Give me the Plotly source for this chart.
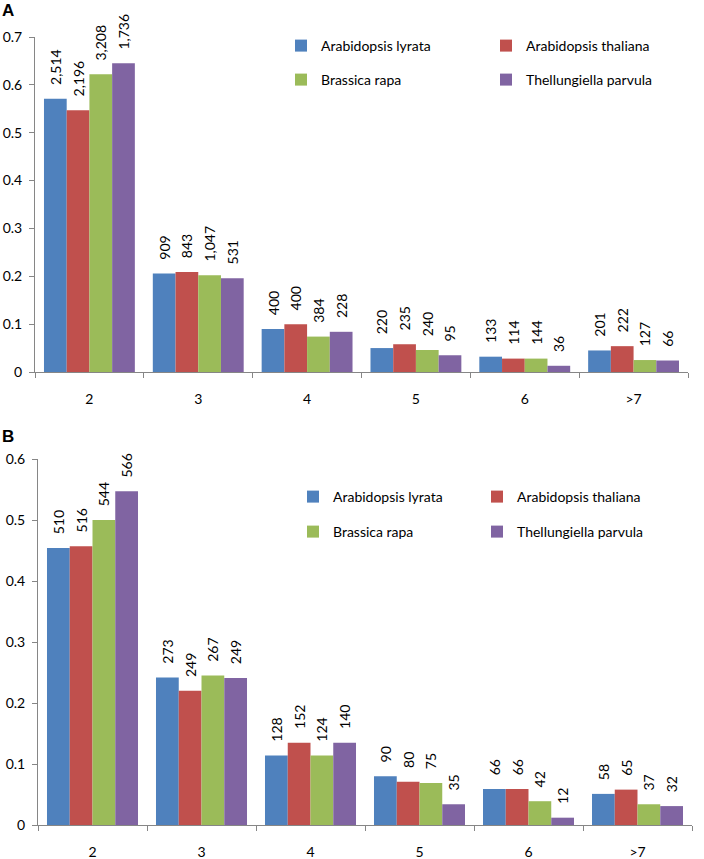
import plotly.graph_objects as go

W, H = 704, 859

categories = ["2", "3", "4", "5", "6", ">7"]
species = ["Arabidopsis lyrata", "Arabidopsis thaliana", "Brassica rapa", "Thellungiella parvula"]
colors = ["#4F81BD", "#C0504D", "#9BBB59", "#8064A2"]

# Panel A: fractions (bar heights) and counts (labels)
a_lyrata = [0.571, 0.206, 0.090, 0.050, 0.032, 0.045]
a_thaliana = [0.547, 0.209, 0.100, 0.058, 0.028, 0.054]
a_rapa = [0.622, 0.202, 0.074, 0.046, 0.028, 0.025]
a_parvula = [0.645, 0.196, 0.084, 0.035, 0.013, 0.024]
a_lyrata_n = [2514, 909, 400, 220, 133, 201]
a_thaliana_n = [2196, 843, 400, 235, 114, 222]
a_rapa_n = [3208, 1047, 384, 240, 144, 127]
a_parvula_n = [1736, 531, 228, 95, 36, 66]

# Panel B
b_lyrata = [0.454, 0.242, 0.114, 0.080, 0.059, 0.051]
b_thaliana = [0.457, 0.220, 0.135, 0.071, 0.059, 0.058]
b_rapa = [0.500, 0.245, 0.114, 0.069, 0.039, 0.034]
b_parvula = [0.547, 0.241, 0.135, 0.034, 0.012, 0.031]
b_lyrata_n = [510, 273, 128, 90, 66, 58]
b_thaliana_n = [516, 249, 152, 80, 66, 65]
b_rapa_n = [544, 267, 124, 75, 42, 37]
b_parvula_n = [566, 249, 140, 35, 12, 32]

panel_a = [a_lyrata, a_thaliana, a_rapa, a_parvula]
panel_a_n = [a_lyrata_n, a_thaliana_n, a_rapa_n, a_parvula_n]
panel_b = [b_lyrata, b_thaliana, b_rapa, b_parvula]
panel_b_n = [b_lyrata_n, b_thaliana_n, b_rapa_n, b_parvula_n]

FONT = "Lato, 'Open Sans', sans-serif"
AXIS_COLOR = "#868686"
PAD = "\u00a0\u00a0\u00a0"

fig = go.Figure()

# legend placements (text start x, row y) in px
leg_a = [(321, 46), (526, 46), (321, 80), (526, 80)]
leg_b = [(333, 497), (517, 497), (333, 532), (517, 532)]

for i, name in enumerate(species):
    fig.add_trace(go.Bar(
        x=categories, y=panel_a[i], name=name,
        marker=dict(color=colors[i], line=dict(width=0)),
        text=[PAD + f"{v:,}" for v in panel_a_n[i]],
        textposition="outside", textangle=-90, constraintext="none",
        cliponaxis=False, textfont=dict(family=FONT, size=14, color="#000"),
        xaxis="x", yaxis="y",
        legend="legend" if i == 0 else f"legend{i + 1}",
        showlegend=True,
    ))
for i, name in enumerate(species):
    fig.add_trace(go.Bar(
        x=categories, y=panel_b[i], name=name,
        marker=dict(color=colors[i], line=dict(width=0)),
        text=[PAD + f"{v:,}" for v in panel_b_n[i]],
        textposition="outside", textangle=-90, constraintext="none",
        cliponaxis=False, textfont=dict(family=FONT, size=14, color="#000"),
        xaxis="x2", yaxis="y2",
        legend=f"legend{i + 5}",
        showlegend=True,
    ))

def xd(a, b):
    return [a / W, b / W]

def yd(top, bottom):
    return [1 - bottom / H, 1 - top / H]

axis_common = dict(
    showline=True, linecolor=AXIS_COLOR, linewidth=1,
    ticks="outside", tickcolor=AXIS_COLOR, ticklen=5,
    showgrid=False, zeroline=False, automargin=False,
    tickfont=dict(family=FONT, size=14, color="#000"),
)

layout = dict(
    width=W, height=H,
    margin=dict(l=0, r=0, t=0, b=0),
    paper_bgcolor="white", plot_bgcolor="white",
    template="none",
    barmode="group", bargap=0.165, bargroupgap=0,
    font=dict(family=FONT, size=14, color="#000"),
    xaxis=dict(domain=xd(35, 688), anchor="y", type="category",
               tickson="boundaries", ticklabelstandoff=14, **axis_common),
    yaxis=dict(domain=yd(37, 372), anchor="x", range=[0, 0.7], dtick=0.1,
               ticklabelstandoff=4, **axis_common),
    xaxis2=dict(domain=xd(38, 692), anchor="y2", type="category",
                tickson="boundaries", ticklabelstandoff=14, **axis_common),
    yaxis2=dict(domain=yd(459, 825), anchor="x2", range=[0, 0.6], dtick=0.1,
                ticklabelstandoff=4, **axis_common),
    annotations=[
        dict(text="<b>A</b>", x=0, y=1 - 10 / H, xref="paper", yref="paper",
             xanchor="left", yanchor="middle", showarrow=False,
             font=dict(family="Liberation Sans, Arial", size=17)),
        dict(text="<b>B</b>", x=0, y=1 - 436 / H, xref="paper", yref="paper",
             xanchor="left", yanchor="middle", showarrow=False,
             font=dict(family="Liberation Sans, Arial", size=17)),
    ],
)

for k, (tx, ty) in enumerate(leg_a + leg_b):
    key = "legend" if k == 0 else f"legend{k + 1}"
    layout[key] = dict(
        x=(tx - 40) / W, y=1 - ty / H, xanchor="left", yanchor="middle",
        bgcolor="rgba(0,0,0,0)", borderwidth=0,
        font=dict(family=FONT, size=14, color="#000"),
        itemclick=False, itemdoubleclick=False,
    )

fig.update_layout(**layout)
fig.write_html("out.html", config={"displayModeBar": False},
               post_script="document.body.style.margin='0';")
